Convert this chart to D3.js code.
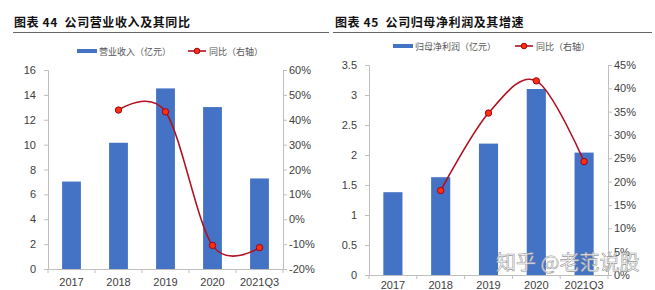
<!DOCTYPE html>
<html>
<head>
<meta charset="utf-8">
<script src="https://cdn.jsdelivr.net/npm/d3@7"></script>
<style>
  body { margin: 0; background: #fff; }
  svg { display: block; font-family: "Liberation Sans", Arial, sans-serif; }
  .title { font-family: "Noto Sans CJK SC", sans-serif; font-weight: 700; font-size: 12px; fill: #111; letter-spacing: 0.6px; white-space: pre; }
  .legend text { font-family: "Noto Sans CJK SC", sans-serif; font-size: 9px; fill: #555; }
  .axis text { font-size: 11px; fill: #404040; }
</style>
</head>
<body>
<script>
// chart 44 data
var years = ["2017", "2018", "2019", "2020", "2021Q3"];
var revenue = [7.03, 10.15, 14.52, 13.02, 7.28];
var revenueYoY = [null, 0.439, 0.432, -0.105, -0.114];
var revTicksLeft = [0, 2, 4, 6, 8, 10, 12, 14, 16];
var revTicksRight = [-0.2, -0.1, 0, 0.1, 0.2, 0.3, 0.4, 0.5, 0.6];

// chart 45 data
var profit = [1.38, 1.63, 2.19, 3.10, 2.04];
var profitYoY = [null, 0.181, 0.347, 0.416, 0.243];
var profTicksLeft = [0, 0.5, 1, 1.5, 2, 2.5, 3, 3.5];
var profTicksRight = [0, 0.05, 0.1, 0.15, 0.2, 0.25, 0.3, 0.35, 0.4, 0.45];

var barColor = "#4472C4",
  lineColor = "#B01020",
  axisColor = "#BFBFBF";

var svg = d3.select("body").append("svg").attr("width", 655).attr("height", 290);

function drawChart(o) {
  var g = svg.append("g");

  g.append("text").attr("class", "title").attr("x", o.titleX).attr("y", 27).text(o.title);
  g.append("line")
    .attr("x1", o.ruleX[0]).attr("x2", o.ruleX[1])
    .attr("y1", 32.5).attr("y2", 32.5)
    .attr("stroke", "#666").attr("stroke-width", 1);

  var x = d3.scaleBand().domain(years).range(o.xRange).padding(0.6).paddingOuter(0.3);
  var yL = d3.scaleLinear().domain(o.leftDomain).range(o.yRange);
  var yR = d3.scaleLinear().domain(o.rightDomain).range(o.yRange);

  // bars
  g.append("g")
    .selectAll("rect")
    .data(o.bars)
    .enter()
    .append("rect")
    .attr("x", (d, i) => x(years[i]))
    .attr("width", x.bandwidth())
    .attr("y", (d) => yL(d))
    .attr("height", (d) => yL(0) - yL(d))
    .attr("fill", barColor);

  // left axis
  var left = g.append("g")
    .attr("class", "axis")
    .attr("transform", "translate(" + o.xRange[0] + ",0)")
    .call(d3.axisLeft(yL).tickValues(o.leftTicks).tickSize(4).tickPadding(8).tickFormat((d) => d));
  // right axis
  var right = g.append("g")
    .attr("class", "axis")
    .attr("transform", "translate(" + o.xRange[1] + ",0)")
    .call(d3.axisRight(yR).tickValues(o.rightTicks).tickSize(4).tickPadding(2)
      .tickFormat((d) => Math.round(d * 100) + "%"));
  // bottom axis: labels at centers, ticks between categories
  var bottom = g.append("g")
    .attr("class", "axis")
    .attr("transform", "translate(0," + o.yRange[0] + ")")
    .call(d3.axisBottom(x).tickSize(0).tickPadding(o.labelPad));
  var step = x.step();
  bottom.selectAll(".sep")
    .data(d3.range(years.length + 1))
    .enter()
    .append("line")
    .attr("class", "sep")
    .attr("x1", (i) => o.xRange[0] + i * step)
    .attr("x2", (i) => o.xRange[0] + i * step)
    .attr("y1", 0).attr("y2", 4)
    .attr("stroke", axisColor);

  [left, right, bottom].forEach((a) => {
    a.selectAll(".domain").attr("stroke", axisColor);
    a.selectAll(".tick line").attr("stroke", axisColor);
  });

  // yoy line
  var pts = o.yoy
    .map((v, i) => (v == null ? null : [x(years[i]) + x.bandwidth() / 2, yR(v)]))
    .filter((p) => p);
  g.append("path")
    .datum(pts)
    .attr("d", d3.line().curve(d3.curveCardinal.tension(0)))
    .attr("fill", "none")
    .attr("stroke", lineColor)
    .attr("stroke-width", 1.6);
  g.append("g")
    .selectAll("circle")
    .data(pts)
    .enter()
    .append("circle")
    .attr("cx", (d) => d[0])
    .attr("cy", (d) => d[1])
    .attr("r", 3.2)
    .attr("fill", "#FF3010")
    .attr("stroke", "#A00018")
    .attr("stroke-width", 1);

  // legend
  var lg = g.append("g").attr("class", "legend");
  lg.append("rect")
    .attr("x", o.legend.barX).attr("y", o.legend.y - 2)
    .attr("width", 20).attr("height", 4)
    .attr("fill", barColor);
  lg.append("text")
    .attr("x", o.legend.barX + 22).attr("y", o.legend.y + 3.5)
    .text(o.barLabel);
  lg.append("line")
    .attr("x1", o.legend.lineX).attr("x2", o.legend.lineX + 18)
    .attr("y1", o.legend.y).attr("y2", o.legend.y)
    .attr("stroke", lineColor).attr("stroke-width", 1.6);
  lg.append("circle")
    .attr("cx", o.legend.lineX + 9).attr("cy", o.legend.y).attr("r", 2.8)
    .attr("fill", "#FF3010").attr("stroke", "#A00018");
  lg.append("text")
    .attr("x", o.legend.lineX + 21).attr("y", o.legend.y + 3.5)
    .text("同比（右轴）");
}

drawChart({
  title: "图表 44  公司营业收入及其同比",
  titleX: 14,
  ruleX: [13, 329],
  xRange: [48, 283],
  yRange: [269, 70],
  leftDomain: [0, 16],
  rightDomain: [-0.2, 0.6],
  leftTicks: revTicksLeft,
  rightTicks: revTicksRight,
  bars: revenue,
  yoy: revenueYoY,
  labelPad: 9,
  barLabel: "营业收入（亿元）",
  legend: { barX: 77, lineX: 188, y: 51 }
});

drawChart({
  title: "图表 45  公司归母净利润及其增速",
  titleX: 335,
  ruleX: [333, 652],
  xRange: [369, 608],
  yRange: [275, 65],
  leftDomain: [0, 3.5],
  rightDomain: [0, 0.45],
  leftTicks: profTicksLeft,
  rightTicks: profTicksRight,
  bars: profit,
  yoy: profitYoY,
  labelPad: 6,
  barLabel: "归母净利润（亿元）",
  legend: { barX: 393, lineX: 515, y: 46 }
});

// watermark
svg.append("text")
  .attr("x", 496)
  .attr("y", 270)
  .attr("font-family", "Noto Sans CJK SC, sans-serif")
  .attr("font-size", 20)
  .attr("fill", "#fff")
  .attr("fill-opacity", 0.85)
  .attr("stroke", "#999")
  .attr("stroke-width", 0.6)
  .text("知乎 @老范说股");
</script>
</body>
</html>
